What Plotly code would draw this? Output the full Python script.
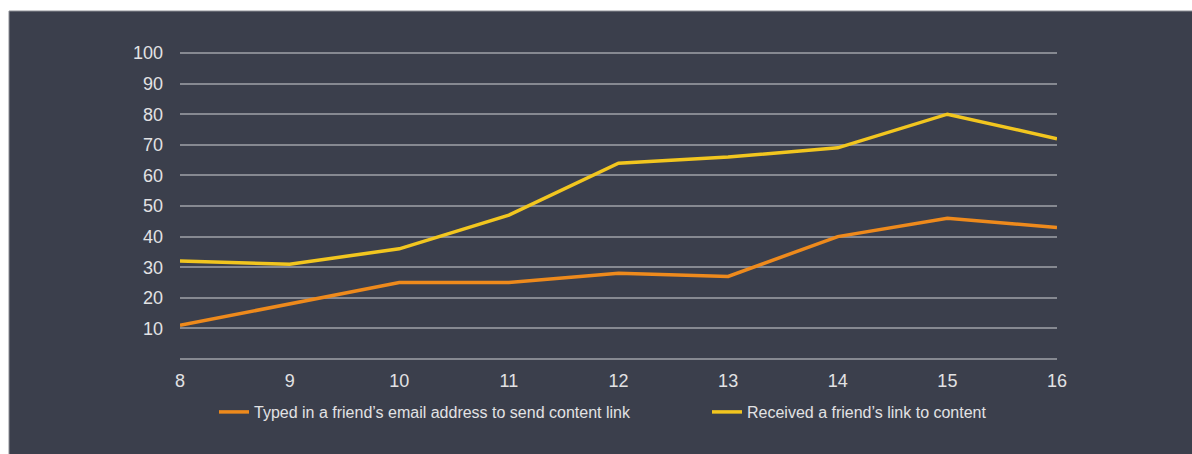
import plotly.graph_objects as go

# Age groups on the x axis and share of respondents (%) per behaviour
ages = [8, 9, 10, 11, 12, 13, 14, 15, 16]
typed_email = [11, 18, 25, 25, 28, 27, 40, 46, 43]
received_link = [32, 31, 36, 47, 64, 66, 69, 80, 72]
y_ticks = [10, 20, 30, 40, 50, 60, 70, 80, 90, 100]

BG = "#3b3f4c"
GRID = "#868991"
TEXT = "#e2e2e4"
W, H = 1192, 454
L, R, T, B = 180, 135, 51, 95

fig = go.Figure()
fig.add_trace(go.Scatter(
    x=ages, y=typed_email, mode="lines",
    name="Typed in a friend’s email address to send content link",
    line=dict(color="#ee8a1c", width=3.5),
    legend="legend", showlegend=True,
))
fig.add_trace(go.Scatter(
    x=ages, y=received_link, mode="lines",
    name="Received a friend’s link to content",
    line=dict(color="#f2c61f", width=3.5),
    legend="legend2", showlegend=True,
))

pw = W - L - R
ph = H - T - B
# dark panel behind the chart, with a thin light edge on top and left
x0 = (9 - L) / pw
y1 = (H - 11 - B) / ph
fig.add_shape(type="rect", xref="paper", yref="paper", layer="below",
              x0=x0, x1=(W + 5 - L) / pw, y0=-B / ph - 0.1, y1=y1,
              fillcolor=BG, line=dict(width=0))
fig.add_shape(type="line", xref="paper", yref="paper", layer="below",
              x0=x0, x1=(W + 5 - L) / pw, y0=y1, y1=y1,
              line=dict(color="#8c8e94", width=1))
fig.add_shape(type="line", xref="paper", yref="paper", layer="below",
              x0=x0, x1=x0, y0=-B / ph - 0.1, y1=y1,
              line=dict(color="#8c8e94", width=1))

legend_y = -(412 - (H - B)) / ph
legend_common = dict(
    orientation="h", xanchor="left", y=legend_y, yanchor="middle",
    font=dict(size=16, color=TEXT), bgcolor="rgba(0,0,0,0)",
)

fig.update_layout(
    width=W, height=H,
    margin=dict(l=L, r=R, t=T, b=B, autoexpand=False),
    paper_bgcolor="white",
    plot_bgcolor=BG,
    showlegend=True,
    font=dict(family="Liberation Sans, Arial, sans-serif", color=TEXT),
    legend=dict(x=(214 - L) / pw, **legend_common),
    legend2=dict(x=(707 - L) / pw, **legend_common),
    xaxis=dict(
        range=[8, 16], tickvals=ages, showgrid=False, zeroline=False,
        showline=False, ticks="", tickfont=dict(size=18, color=TEXT),
        ticklabelstandoff=9,
    ),
    yaxis=dict(
        # small headroom above 100 so its gridline is drawn
        range=[0, 100.65], tickvals=y_ticks, showgrid=True, gridcolor=GRID,
        gridwidth=1.5, zeroline=True, zerolinecolor=GRID, zerolinewidth=1.5,
        showline=False, ticks="", tickfont=dict(size=18, color=TEXT),
        ticklabelstandoff=16,
    ),
)

fig.write_html("out.html")
